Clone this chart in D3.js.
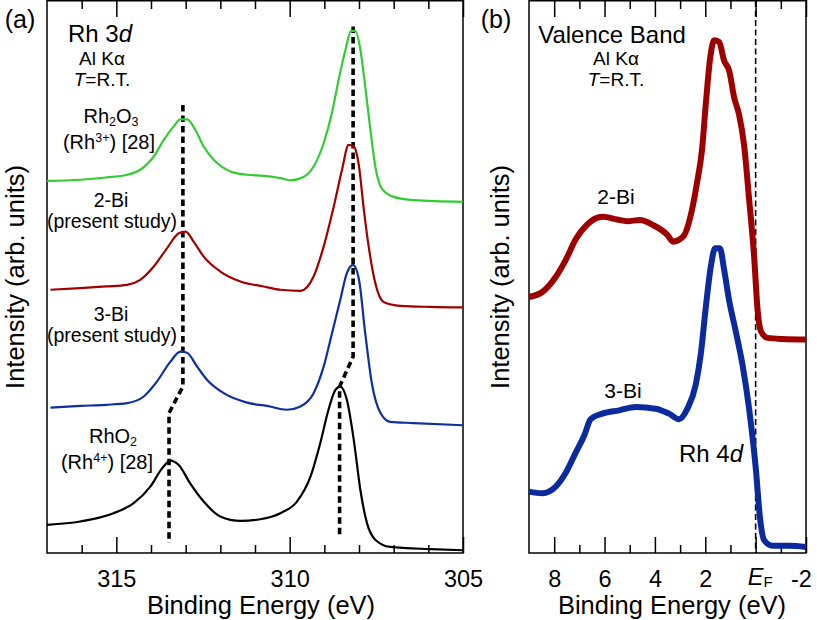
<!DOCTYPE html>
<html><head><meta charset="utf-8">
<script src="https://cdn.jsdelivr.net/npm/d3@7"></script>
<style>
body{margin:0;background:#fff;}
svg{display:block;font-family:"Liberation Sans",Arial,sans-serif;}
</style>
</head><body>
<svg id="c" width="817" height="620"></svg>
<script>
// ---------- DATA (binding energy eV, intensity arb. units) ----------
// Panel (a): Rh 3d core level
const rh2o3Ref = [[317.0,67.3],[316.04,67.5],[315.3,67.9],[314.69,68.4],[314.31,69.3],[313.92,71.7],[313.63,74.7],[313.35,77.1],[313.15,78.4],[312.96,78.4],[312.72,76.5],[312.48,73.5],[312.19,71.1],[311.71,69.0],[311.23,68.4],[310.75,68.2],[310.27,67.8],[309.98,67.4],[309.6,68.0],[309.31,69.9],[309.02,74.1],[308.78,79.6],[308.59,85.5],[308.39,91.0],[308.23,94.4],[308.11,94.4],[307.96,91.0],[307.82,84.3],[307.67,76.5],[307.53,69.9],[307.34,65.9],[307.0,64.4],[306.42,63.8],[305.0,63.5]];
const core2Bi = [[316.9,47.6],[316.04,47.9],[315.3,48.2],[314.69,48.5],[314.31,49.4],[313.92,51.8],[313.54,55.1],[313.2,57.8],[313.0,58.1],[312.77,56.3],[312.48,53.6],[312.0,50.9],[311.42,49.1],[310.75,48.2],[310.27,47.6],[309.69,47.4],[309.31,50.0],[309.02,55.4],[308.73,62.6],[308.49,69.3],[308.3,73.8],[308.15,73.5],[308.0,69.9],[307.87,62.6],[307.72,55.4],[307.53,48.8],[307.29,45.4],[306.81,44.7],[305.94,44.5],[305.0,44.4]];
const core3Bi = [[316.9,26.3],[316.04,26.6],[315.3,26.8],[314.69,27.1],[314.21,28.3],[313.83,31.0],[313.44,34.6],[313.15,36.4],[312.96,36.2],[312.67,33.7],[312.38,31.3],[311.9,28.9],[311.23,27.2],[310.65,26.6],[310.08,25.9],[309.69,26.5],[309.31,28.9],[309.02,33.7],[308.78,39.7],[308.54,45.8],[308.35,50.6],[308.17,52.1],[308.0,49.4],[307.82,39.7],[307.63,30.7],[307.38,25.3],[307.1,23.7],[306.42,23.5],[305.0,23.1]];
const rho2Ref = [[317.0,5.1],[316.04,5.7],[315.08,7.2],[314.5,9.0],[314.02,12.0],[313.68,15.3],[313.44,16.7],[313.2,15.9],[312.87,12.6],[312.48,9.3],[312.0,6.6],[311.42,5.8],[310.85,6.1],[310.27,7.2],[309.79,9.3],[309.4,13.8],[309.12,19.8],[308.88,25.9],[308.68,29.5],[308.54,30.1],[308.35,27.7],[308.15,20.4],[307.96,11.4],[307.77,5.4],[307.53,2.4],[307.1,1.1],[305.94,0.7],[305.0,0.5]];
const guide3d3 = [[313.08,81.0],[313.08,30.1],[313.48,25.3],[313.48,1.8]];
const guide3d5 = [[308.17,95.2],[308.17,35.5],[308.56,30.1],[308.56,2.7]];

// Panel (b): valence band
const vb2Bi = [[9.0,46.3],[8.47,47.2],[7.94,49.9],[7.54,53.0],[7.15,56.7],[6.75,59.1],[6.3,60.6],[6.06,60.8],[5.5,60.3],[5.1,60.0],[4.6,60.2],[4.07,59.3],[3.5,57.5],[3.28,56.3],[2.88,57.2],[2.53,62.0],[2.33,66.9],[2.13,72.9],[1.97,81.7],[1.8,89.7],[1.65,92.7],[1.45,92.4],[1.25,89.0],[1.05,87.2],[0.85,82.3],[0.66,79.3],[0.46,73.8],[0.26,64.0],[0.06,53.6],[-0.07,44.4],[-0.21,40.1],[-0.47,38.9],[-1.07,38.7],[-2.0,38.6]];
const vb3Bi = [[9.0,11.1],[8.47,10.8],[7.94,12.0],[7.54,14.5],[7.15,18.1],[6.81,21.2],[6.55,24.2],[6.09,25.2],[5.42,25.8],[4.76,26.4],[3.97,26.1],[3.44,25.2],[3.04,24.2],[2.71,26.1],[2.38,30.4],[2.18,35.9],[1.98,44.4],[1.78,51.8],[1.61,55.1],[1.42,55.1],[1.25,51.2],[1.05,45.6],[0.79,40.1],[0.52,34.0],[0.26,26.1],[-0.01,15.1],[-0.17,6.5],[-0.34,2.3],[-0.67,1.3],[-1.33,1.3],[-2.0,1.1]];
const fermiLevel = 0;

// Tick values / labels
const coreMajorTicks = [315,310,305];
const coreMinorTicks = [316,314,313,312,311,309,308,307,306];
const coreTickLabels = ["315","310","305"];
const vbMajorTicks = [8,6,4,2,0,-2];
const vbMinorTicks = [7,5,3,1,-1];
const vbTickLabels = ["8","6","4","2","EF","-2"];

// ---------- CHART ----------
const svg = d3.select('#c');
const FONT = '"Liberation Sans",Arial,sans-serif';
const y = d3.scaleLinear().domain([0,100]).range([553,0]);
const xa = d3.scaleLinear().domain([317,305]).range([47,463]);
const xb = d3.scaleLinear().domain([9,-2]).range([529,806]);

function axes(x, majors, minors, labels){
  const mk = (gen, vals, size, pos, withLabels) => {
    const g = svg.append('g').attr('transform', `translate(0,${pos})`)
      .call(gen(x).tickValues(vals).tickSize(size).tickSizeOuter(0).tickPadding(17)
        .tickFormat(withLabels ? (d=>labels[vals.indexOf(d)]) : (()=>'')));
    g.select('.domain').remove();
    g.attr('font-family', FONT);
    g.selectAll('line').attr('stroke','#000').attr('stroke-width',1.5);
    g.selectAll('text').attr('font-size',23.5).attr('fill','#000');
    return g;
  };
  const gb = mk(d3.axisBottom, majors, -16, 553, true);
  mk(d3.axisBottom, minors, -8, 553, false);
  mk(d3.axisTop, majors, -17, 0, false);
  mk(d3.axisTop, minors, -9, 0, false);
  const r = x.range();
  svg.append('rect').attr('x', r[0]).attr('y', 0.75).attr('width', r[1]-r[0]).attr('height', 552.25)
    .attr('fill','none').attr('stroke','#000').attr('stroke-width',1.5);
  return gb;
}

axes(xa, coreMajorTicks, coreMinorTicks, coreTickLabels);
const gbB = axes(xb, vbMajorTicks, vbMinorTicks, vbTickLabels);
gbB.selectAll('.tick text').filter(d => d === 0).each(function(){
  const t = d3.select(this).text(null).attr('dx', 4).attr('dy', '0.64em');
  t.append('tspan').attr('font-style','italic').text('E');
  t.append('tspan').attr('font-size',15).attr('dy',2).text('F');
});
gbB.selectAll('.tick text').filter(d => d === -2).attr('dx', -5);

// guides
const la = d3.line().x(d=>xa(d[0])).y(d=>y(d[1])).curve(d3.curveMonotoneX);
const lb = d3.line().x(d=>xb(d[0])).y(d=>y(d[1])).curve(d3.curveMonotoneX);
const lg = d3.line().x(d=>xa(d[0])).y(d=>y(d[1]));
[guide3d3, guide3d5].forEach(g => {
  svg.append('path').attr('d', lg(g)).attr('fill','none').attr('stroke','#000')
    .attr('stroke-width',3.6).attr('stroke-dasharray','6.5,4');
});
svg.append('line').attr('x1', xb(fermiLevel)).attr('x2', xb(fermiLevel)).attr('y1', 1).attr('y2', 553)
  .attr('stroke','#000').attr('stroke-width',1.6).attr('stroke-dasharray','6,3.5');

// curves (a)
const coreSeries = [[rh2o3Ref,'#33cc33'],[core2Bi,'#a00000'],[core3Bi,'#0f2fa0'],[rho2Ref,'#000000']];
coreSeries.forEach(([d,c]) => {
  svg.append('path').attr('d', la(d)).attr('fill','none').attr('stroke', c)
    .attr('stroke-width',2.2).attr('stroke-linejoin','round');
});
// curves (b)
[[vb2Bi,'#9e0000'],[vb3Bi,'#0a2a9e']].forEach(([d,c]) => {
  svg.append('path').attr('d', lb(d)).attr('fill','none').attr('stroke', c)
    .attr('stroke-width',6).attr('stroke-linejoin','round');
});

// ---------- TEXT ----------
function label(x, yy, parts, size, anchor){
  const t = svg.append('text').attr('x', x).attr('y', yy).attr('font-size', size)
    .attr('text-anchor', anchor || 'middle').attr('fill','#000').attr('font-family', FONT);
  parts.forEach(p => {
    const s = t.append('tspan').text(p.t);
    if (p.i) s.attr('font-style','italic');
    if (p.fs) s.attr('font-size', p.fs);
    if (p.dy) s.attr('dy', p.dy);
  });
  return t;
}
label(20, 28, [{t:'(a)'}], 25);
label(496, 28, [{t:'(b)'}], 25);

label(100, 42, [{t:'Rh 3'},{t:'d',i:1}], 24);
label(102, 65, [{t:'Al K\u03b1'}], 19);
label(102, 86, [{t:'T',i:1},{t:'=R.T.'}], 19);

label(111, 123, [{t:'Rh'},{t:'2',fs:12.5,dy:3},{t:'O',dy:-3},{t:'3',fs:12.5,dy:3}], 20);
label(109, 149, [{t:'(Rh'},{t:'3+',fs:12.5,dy:-7},{t:') [28]',dy:7}], 20);
label(111, 207, [{t:'2-Bi'}], 19.5);
label(112, 228, [{t:'(present study)'}], 19.5);
label(111, 321, [{t:'3-Bi'}], 19.5);
label(112, 342, [{t:'(present study)'}], 19.5);
label(113, 443, [{t:'RhO'},{t:'2',fs:12.5,dy:3}], 20);
label(107, 469, [{t:'(Rh'},{t:'4+',fs:12.5,dy:-7},{t:') [28]',dy:7}], 20);

label(612, 43, [{t:'Valence Band'}], 24);
label(616, 65, [{t:'Al K\u03b1'}], 19);
label(616, 86, [{t:'T',i:1},{t:'=R.T.'}], 19);
label(616, 204, [{t:'2-Bi'}], 21);
label(623, 398, [{t:'3-Bi'}], 21);
label(711, 462, [{t:'Rh 4'},{t:'d',i:1}], 24);

// axis titles
label(261, 614, [{t:'Binding Energy (eV)'}], 25.5);
label(672, 614, [{t:'Binding Energy (eV)'}], 25.5);
label(0, 0, [{t:'Intensity (arb. units)'}], 25.5).attr('transform','translate(24,277) rotate(-90)');
label(0, 0, [{t:'Intensity (arb. units)'}], 25.5).attr('transform','translate(509,277) rotate(-90)');
</script>
</body></html>
